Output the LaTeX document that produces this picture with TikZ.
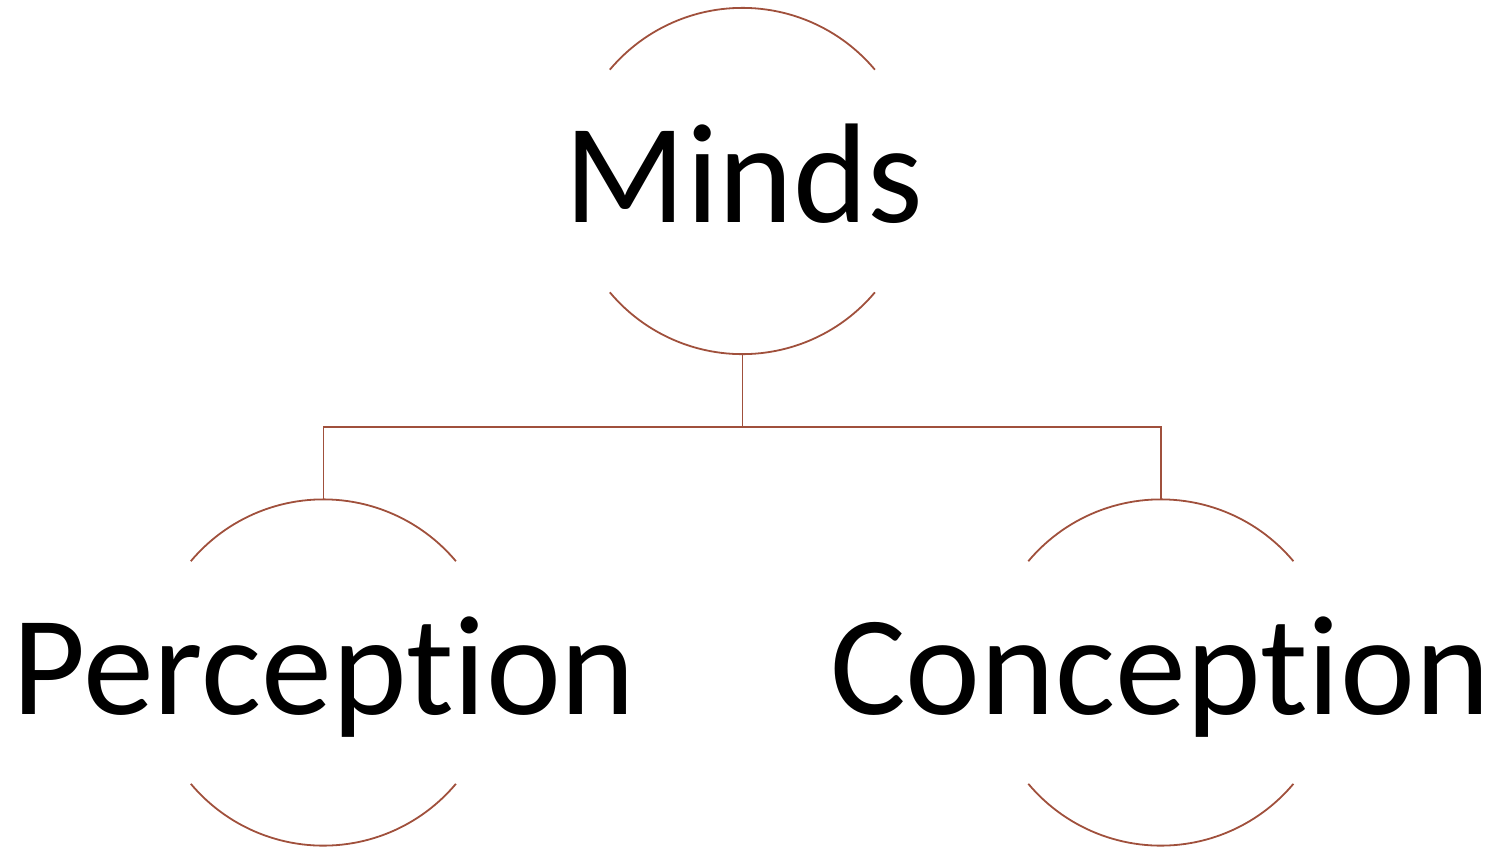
\documentclass[tikz,border=0pt]{standalone}
\usepackage{fontspec}
\setmainfont{Carlito}[Ligatures={NoCommon}]
\definecolor{arcred}{HTML}{A0503C}
\begin{document}
\begin{tikzpicture}[x=1pt,y=-1pt,
  ring/.style={circle,minimum size=346pt,inner sep=0pt,draw=none},
  label/.style={font=\fontsize{142}{150}\selectfont,anchor=base,inner sep=0pt,text=black},
  rim/.style={draw=arcred,line width=1.8pt},
  link/.style={draw=arcred,line width=1.8pt}]
  \useasboundingbox (0,0) rectangle (1501,847);

  % circle frames (only the top and bottom arcs are drawn)
  \node[ring] (minds) at (742.5,181) {};
  \node[ring] (perc)  at (323.5,672.5) {};
  \node[ring] (conc)  at (1161,672.5) {};

  \foreach \c in {minds,perc,conc}{
    \draw[rim] (\c.140) arc[start angle=140,end angle=40,radius=173pt];
    \draw[rim] (\c.220) arc[start angle=220,end angle=320,radius=173pt];
  }

  % labels
  \node[label] (tminds) at (744,222) {Minds};
  \node[label] (tperc)  at (324,714) {Perception};
  \node[label] (tconc)  at (1160,714) {Conception};

  % hierarchy connectors
  \draw[link] (minds.south) -- ++(0,73) coordinate (fork) -| (perc.north);
  \draw[link] (fork) -| (conc.north);
\end{tikzpicture}
\end{document}
